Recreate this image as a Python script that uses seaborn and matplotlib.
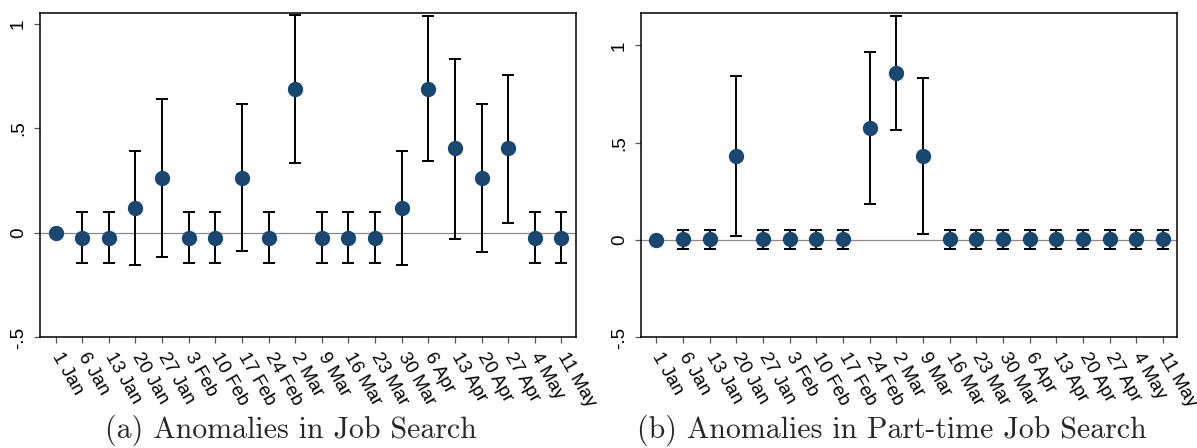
import numpy as np
import pandas as pd
import matplotlib
matplotlib.use('Agg')
import matplotlib.pyplot as plt
import seaborn as sns

# weekly event-study estimates
WEEKS = ['1 Jan', '6 Jan', '13 Jan', '20 Jan', '27 Jan', '3 Feb', '10 Feb',
         '17 Feb', '24 Feb', '2 Mar', '9 Mar', '16 Mar', '23 Mar', '30 Mar',
         '6 Apr', '13 Apr', '20 Apr', '27 Apr', '4 May', '11 May']

nan = np.nan

# (a) Job search
job_coef = [0.0, -0.024, -0.024, 0.120, 0.262, -0.024, -0.024, 0.262, -0.024, 0.688,
            -0.024, -0.024, -0.024, 0.120, 0.688, 0.405, 0.262, 0.405, -0.024, -0.024]
job_lo = [nan, -0.146, -0.146, -0.154, -0.116, -0.146, -0.146, -0.088, -0.146, 0.336,
          -0.146, -0.146, -0.146, -0.154, 0.343, -0.027, -0.089, 0.049, -0.146, -0.146]
job_hi = [nan, 0.099, 0.099, 0.393, 0.640, 0.099, 0.099, 0.616, 0.099, 1.040,
          0.099, 0.099, 0.099, 0.393, 1.035, 0.833, 0.616, 0.756, 0.099, 0.099]

# (b) Part-time job search
pt_coef = [0.0, 0.005, 0.005, 0.433, 0.005, 0.005, 0.005, 0.005, 0.574, 0.860,
           0.433, 0.005, 0.005, 0.005, 0.005, 0.005, 0.005, 0.005, 0.005, 0.005]
pt_lo = [nan, -0.045, -0.045, 0.021, -0.045, -0.045, -0.045, -0.045, 0.185, 0.565,
         0.029, -0.045, -0.045, -0.045, -0.045, -0.045, -0.045, -0.045, -0.045, -0.045]
pt_hi = [nan, 0.050, 0.050, 0.843, 0.050, 0.050, 0.050, 0.050, 0.965, 1.153,
         0.834, 0.050, 0.050, 0.050, 0.050, 0.050, 0.050, 0.050, 0.050, 0.050]

NAVY = '#1a476f'

sns.set_theme(style='white')
plt.rcParams['font.family'] = ['Liberation Sans', 'DejaVu Sans']


def draw_panel(ax, coef, lo, hi, ytop, caption, cap_x):
    df = pd.DataFrame({'week': WEEKS, 'coef': coef})
    sns.pointplot(data=df, x='week', y='coef', order=WEEKS, linestyle='none',
                  color=NAVY, marker='o', markersize=9, errorbar=None, ax=ax)
    for ln in ax.lines:
        ln.set_zorder(4)
    c = np.array(coef)
    yerr = np.vstack([c - np.array(lo), np.array(hi) - c])
    ax.errorbar(np.arange(len(WEEKS)), c, yerr=yerr, fmt='none', ecolor='black',
                elinewidth=1.4, capsize=4.1, capthick=1.4, zorder=3)
    ax.axhline(0, color='#8a8a8a', lw=0.9, zorder=1)

    ax.set_xlim(-0.575, len(WEEKS) - 0.46)
    ax.set_ylim(-0.5, ytop)
    ax.set_yticks([-0.5, 0, 0.5, 1], labels=['-.5', '0', '.5', '1'],
                  rotation=90, va='center', fontsize=13.5, color='black')
    ax.set_xticks(np.arange(len(WEEKS)), labels=WEEKS, rotation=-60,
                  ha='left', va='center', rotation_mode='anchor',
                  fontsize=13.5, color='black')
    ax.tick_params(axis='both', direction='out', length=4.5, width=0.9,
                   color='#555555', left=True, bottom=True)
    ax.tick_params(axis='x', pad=7)
    ax.tick_params(axis='y', pad=5)
    ax.set_xlabel('')
    ax.set_ylabel('')
    for s in ax.spines.values():
        s.set_color('black')
        s.set_linewidth(1.1)
    fig.text(cap_x, 0.022, caption, ha='center', va='baseline',
             fontsize=21.5, family='cmr10')


fig = plt.figure(figsize=(11.97, 4.48), dpi=100)
ax1 = fig.add_axes([0.0336, 0.2467, 0.4474, 0.7237])
ax2 = fig.add_axes([0.5355, 0.2467, 0.4480, 0.7237])

draw_panel(ax1, job_coef, job_lo, job_hi, 1.05,
           '(a) Anomalies in Job Search', 0.2429)
draw_panel(ax2, pt_coef, pt_lo, pt_hi, 1.165,
           '(b) Anomalies in Part-time Job Search', 0.7449)

fig.savefig('out.png', dpi=100)
